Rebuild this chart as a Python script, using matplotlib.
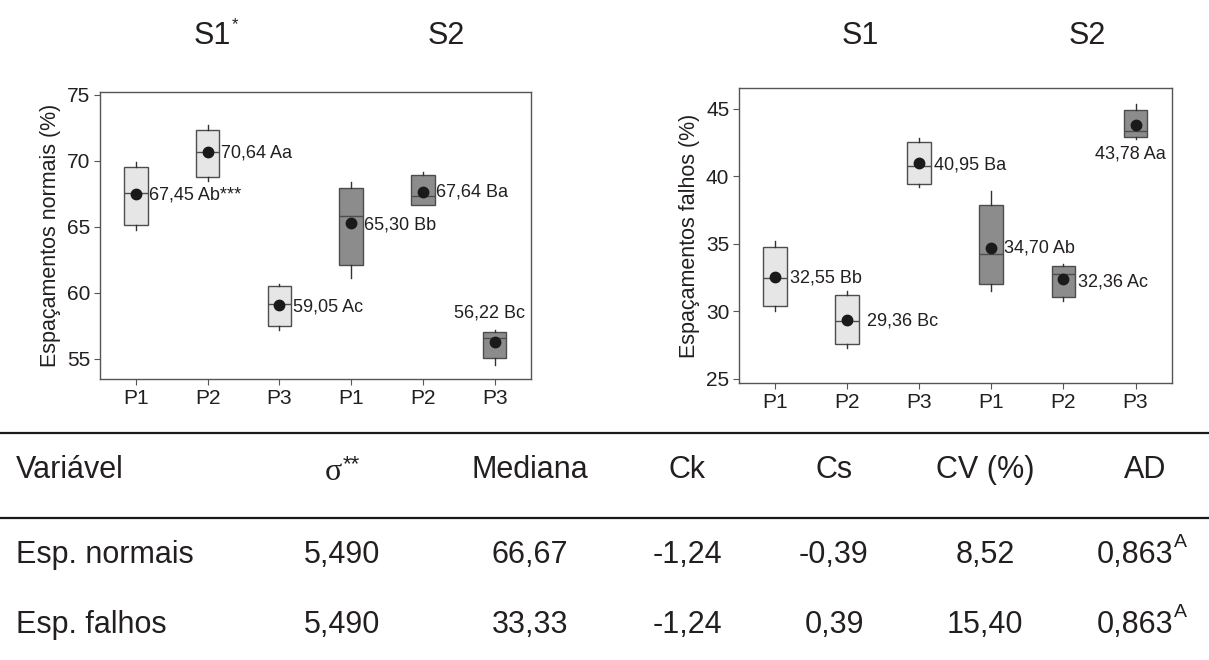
import matplotlib.pyplot as plt

plt.rcParams['font.family'] = ['Liberation Sans', 'DejaVu Sans']

TXT = '#231f20'
EDGE = '#4d4d4d'

# P1-P3 for S1, then P1-P3 for S2
positions = [1, 2, 3, 4, 5, 6]
tick_labels = ['P1', 'P2', 'P3', 'P1', 'P2', 'P3']
box_colors = ['#e6e6e6'] * 3 + ['#8c8c8c'] * 3

# Espacamentos normais (%)
norm_whislo = [64.73, 68.46, 57.18, 61.08, 66.66, 54.52]
norm_q1 = [65.14, 68.76, 57.43, 62.10, 66.66, 55.05]
norm_med = [67.55, 70.69, 59.11, 65.80, 67.32, 56.55]
norm_q3 = [69.55, 72.34, 60.48, 67.95, 68.92, 57.00]
norm_whishi = [69.90, 72.69, 60.68, 68.38, 69.17, 57.13]
norm_mean = [67.45, 70.64, 59.05, 65.30, 67.64, 56.22]
norm_tags = ['Ab***', 'Aa', 'Ac', 'Bb', 'Ba', 'Bc']

# Espacamentos falhos (%)
falh_whislo = [30.01, 27.27, 39.20, 31.54, 30.80, 42.78]
falh_q1 = [30.41, 27.59, 39.44, 31.99, 31.05, 42.90]
falh_med = [32.48, 29.30, 40.78, 34.21, 32.73, 43.35]
falh_q3 = [34.78, 31.20, 42.51, 37.86, 33.35, 44.93]
falh_whishi = [35.22, 31.54, 42.80, 38.88, 33.47, 45.37]
falh_mean = [32.55, 29.36, 40.95, 34.70, 32.36, 43.78]
falh_tags = ['Bb', 'Bc', 'Ba', 'Ab', 'Ac', 'Aa']

# summary table
table_header = ['Variável', 'σ', 'Mediana', 'Ck', 'Cs', 'CV (%)', 'AD']
sigma_sup = '**'
var_names = ['Esp. normais', 'Esp. falhos']
sigma_vals = ['5,490', '5,490']
mediana_vals = ['66,67', '33,33']
ck_vals = ['-1,24', '-1,24']
cs_vals = ['-0,39', '0,39']
cv_vals = ['8,52', '15,40']
ad_vals = ['0,863', '0,863']
ad_sup = ['A', 'A']

group_names = ['S1', 'S2', 'S1', 'S2']
group_sup = ['*', '', '', '']

# label offsets (points) from each mean dot
norm_offsets = [(9.5, -0.5, 'left'), (9.5, -0.5, 'left'), (9.5, -1.5, 'left'),
                (9.5, -2.0, 'left'), (9.5, -0.5, 'left'), (-4.0, 21.0, 'center')]
falh_offsets = [(10.5, -0.5, 'left'), (14.0, -0.5, 'left'), (10.5, -1.0, 'left'),
                (9.0, 0.0, 'left'), (10.5, -2.0, 'left'), (-3.5, -20.5, 'center')]


def make_stats(lo, q1, med, q3, hi, mean):
    return [dict(whislo=a, q1=b, med=c, q3=d, whishi=e, mean=f, fliers=[])
            for a, b, c, d, e, f in zip(lo, q1, med, q3, hi, mean)]


def fmt(v):
    return f'{v:.2f}'.replace('.', ',')


def draw_panel(ax, stats, means, tags, offsets, ylabel, ylim, yticks):
    bp = ax.bxp(stats, positions=positions, widths=0.33, patch_artist=True,
                showmeans=True, showcaps=False, showfliers=False,
                boxprops=dict(edgecolor=EDGE, linewidth=1.0),
                medianprops=dict(color=EDGE, linewidth=1.0),
                whiskerprops=dict(color='#333333', linewidth=1.0),
                meanprops=dict(marker='o', markerfacecolor='#1a1a1a',
                               markeredgecolor='#1a1a1a', markersize=7.5))
    for patch, fc in zip(bp['boxes'], box_colors):
        patch.set_facecolor(fc)

    for x, m, tag, (dx, dy, ha) in zip(positions, means, tags, offsets):
        ax.annotate(f'{fmt(m)} {tag}', (x, m), xytext=(dx, dy),
                    textcoords='offset points', ha=ha, va='center',
                    fontsize=13, color=TXT)

    ax.set_xlim(0.5, 6.5)
    ax.set_ylim(*ylim)
    ax.set_yticks(yticks)
    ax.set_xticks(positions)
    ax.set_xticklabels(tick_labels)
    ax.set_ylabel(ylabel, fontsize=15.5, color=TXT, labelpad=4)
    ax.tick_params(direction='out', length=4, width=0.8, color='#555555',
                   labelsize=15, labelcolor=TXT, pad=3)
    for sp in ax.spines.values():
        sp.set_color('#555555')
        sp.set_linewidth(1.0)


def text_sup(ax, x, y, base, sup, size, sup_size, ha='center', rise=0.0,
             gap=0.5, family=None):
    kw = {'family': family} if family else {}
    t = ax.text(x, y, base, ha=ha, va='center', fontsize=size, color=TXT, **kw)
    if sup:
        ax.annotate(sup, xy=(1, 1), xycoords=t, xytext=(gap, rise),
                    textcoords='offset points', ha='left', va='top',
                    fontsize=sup_size, color=TXT)
    return t


fig = plt.figure(figsize=(12.09, 6.6), dpi=100)

ax1 = fig.add_axes([100 / 1209, 1 - 379 / 660, 430.5 / 1209, 287 / 660])
draw_panel(ax1, make_stats(norm_whislo, norm_q1, norm_med, norm_q3, norm_whishi, norm_mean),
           norm_mean, norm_tags, norm_offsets, 'Espaçamentos normais (%)',
           (53.45, 75.2), [55, 60, 65, 70, 75])

ax2 = fig.add_axes([739 / 1209, 1 - 383 / 660, 432.6 / 1209, 294.7 / 660])
draw_panel(ax2, make_stats(falh_whislo, falh_q1, falh_med, falh_q3, falh_whishi, falh_mean),
           falh_mean, falh_tags, falh_offsets, 'Espaçamentos falhos (%)',
           (24.7, 46.5), [25, 30, 35, 40, 45])

# headers and table drawn in pixel coordinates
tab = fig.add_axes([0, 0, 1, 1], zorder=-1)
tab.set_xlim(0, 1209)
tab.set_ylim(660, 0)
tab.axis('off')

for gx, name, sup in zip([212, 446, 860, 1087], group_names, group_sup):
    text_sup(tab, gx, 36, name, sup, 22, 12, rise=3)

tab.axhline(432.5, color='#1a1a1a', lw=1.6)
tab.axhline(517.5, color='#1a1a1a', lw=1.6)

col_x = [16, 342, 530, 687, 834, 985, 1145]
header_y = 470
row_y = [555, 625]

tab.text(col_x[0], header_y, table_header[0], ha='left', va='center', fontsize=22, color=TXT)
text_sup(tab, col_x[1] - 9, header_y + 3, table_header[1], sigma_sup, 23, 16,
         rise=3, gap=1.0, family='Liberation Serif')
for cx, h in zip(col_x[2:], table_header[2:]):
    tab.text(cx, header_y, h, ha='center', va='center', fontsize=22, color=TXT)

columns = [sigma_vals, mediana_vals, ck_vals, cs_vals, cv_vals]
for i, ry in enumerate(row_y):
    tab.text(col_x[0], ry, var_names[i], ha='left', va='center', fontsize=22, color=TXT)
    for cx, col in zip(col_x[1:6], columns):
        tab.text(cx, ry, col[i], ha='center', va='center', fontsize=22, color=TXT)
    text_sup(tab, col_x[6] - 10, ry, ad_vals[i], ad_sup[i], 22, 14, rise=4)

fig.savefig('out.png', dpi=100)
